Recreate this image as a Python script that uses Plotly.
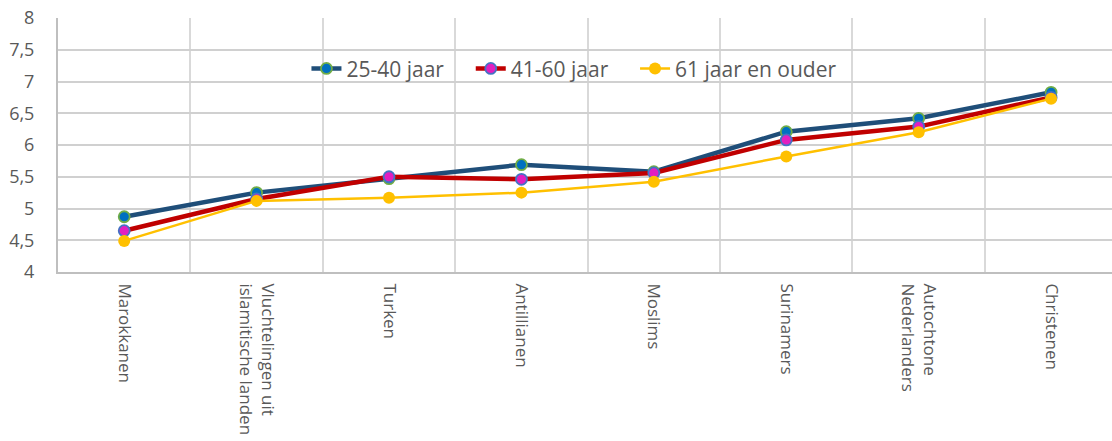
import plotly.graph_objects as go

# Groepen op de horizontale as (in volgorde)
categories = [
    "Marokkanen",
    "Vluchtelingen uit<br>islamitische landen",
    "Turken",
    "Antillianen",
    "Moslims",
    "Surinamers",
    "Autochtone<br>Nederlanders",
    "Christenen",
]

# Gemiddelde scores per leeftijdsgroep
jaar_25_40 = [4.87, 5.25, 5.47, 5.69, 5.58, 6.21, 6.42, 6.83]
jaar_41_60 = [4.65, 5.15, 5.50, 5.46, 5.56, 6.08, 6.29, 6.75]
jaar_61_plus = [4.49, 5.12, 5.17, 5.25, 5.42, 5.82, 6.20, 6.73]

y_ticks = [4, 4.5, 5, 5.5, 6, 6.5, 7, 7.5, 8]

x_pos = list(range(len(categories)))
boundaries = [i + 0.5 for i in range(len(categories) - 1)]

# extra ruimte tussen de legenda-items
pad = "\u00a0" * 4

fig = go.Figure()

fig.add_trace(go.Scatter(
    x=x_pos, y=jaar_25_40, name="25-40 jaar" + pad, mode="lines+markers",
    line=dict(color="#1f4e79", width=4.5),
    marker=dict(size=11, color="#0070c0", line=dict(color="#70ad47", width=1.8)),
))
fig.add_trace(go.Scatter(
    x=x_pos, y=jaar_41_60, name="41-60 jaar" + pad, mode="lines+markers",
    line=dict(color="#c00000", width=4.5),
    marker=dict(size=11, color="#e21fc0", line=dict(color="#4472c4", width=1.8)),
))
fig.add_trace(go.Scatter(
    x=x_pos, y=jaar_61_plus, name="61 jaar en ouder", mode="lines+markers",
    line=dict(color="#ffc000", width=2.5),
    marker=dict(size=12, color="#ffc000", line=dict(color="#ffc000", width=0)),
))

font_family = "Open Sans, Liberation Sans, sans-serif"

fig.update_layout(
    width=1112, height=441,
    margin=dict(l=58, r=0, t=18, b=169, autoexpand=False),
    paper_bgcolor="white", plot_bgcolor="white",
    separators=", ",
    font=dict(family=font_family, size=16, color="#595959"),
    showlegend=True,
    legend=dict(
        orientation="h", x=0.49, xanchor="center", y=0.8, yanchor="middle",
        bgcolor="rgba(0,0,0,0)", font=dict(size=21, color="#595959"),
        itemwidth=30, traceorder="normal",
    ),
    xaxis=dict(
        range=[-0.5, 7.46], automargin=False,
        tickmode="array", tickvals=x_pos, ticktext=categories,
        tickangle=90, showgrid=False, zeroline=False,
        showline=True, linecolor="#bfbfbf", linewidth=2,
        ticks="outside", ticklen=6, tickcolor="rgba(0,0,0,0)",
        tickfont=dict(size=17, color="#595959"),
        minor=dict(tickmode="array", tickvals=boundaries, showgrid=True,
                   gridcolor="#d9d9d9", gridwidth=1.5, ticks=""),
        fixedrange=True,
    ),
    yaxis=dict(
        range=[4, 8], tickmode="array", tickvals=y_ticks, automargin=False,
        tickformat=".1~f",
        showgrid=True, gridcolor="#d0d0d0", gridwidth=1.5,
        zeroline=False, showline=True, linecolor="#bfbfbf", linewidth=2,
        ticks="outside", ticklen=18, tickcolor="rgba(0,0,0,0)",
        tickfont=dict(size=18, color="#595959"),
        fixedrange=True,
    ),
)

fig.write_html("out.html")
